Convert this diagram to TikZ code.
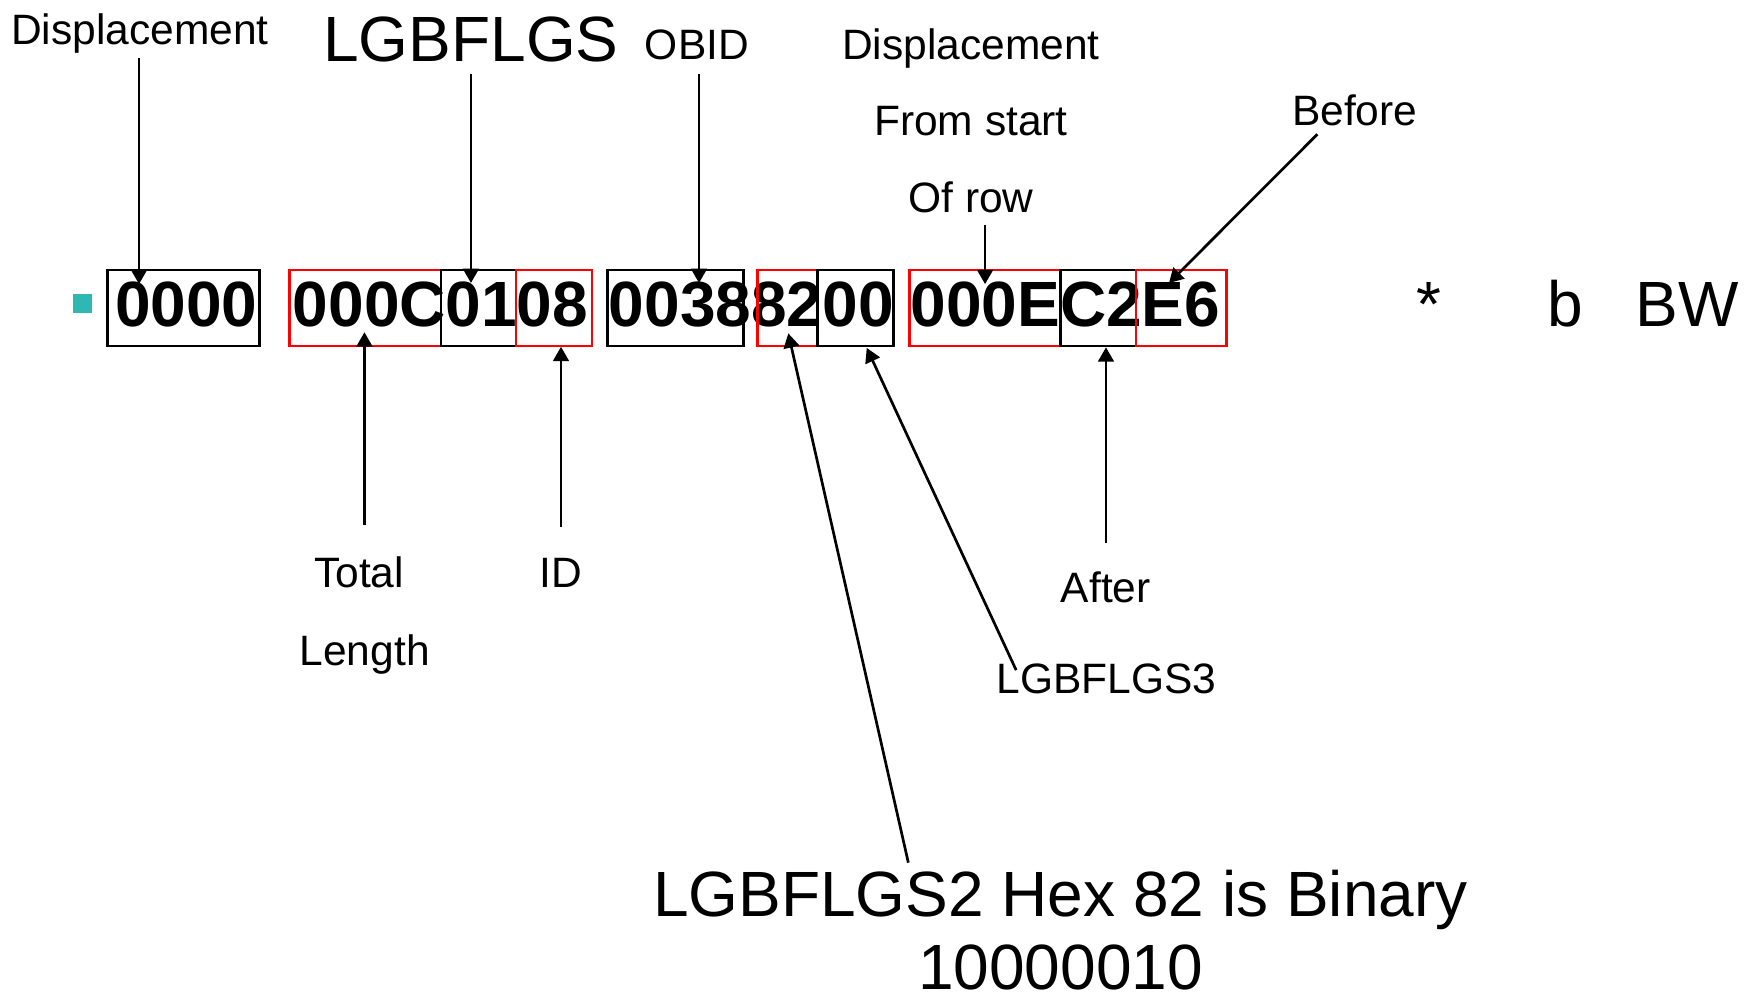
\documentclass[tikz,border=0pt]{standalone}
\usepackage{fontspec}
\setmainfont{Liberation Sans}
\usetikzlibrary{arrows.meta,fit,calc}
\definecolor{bulletteal}{RGB}{46,183,180}
\definecolor{fieldred}{RGB}{255,0,0}

\begin{document}
\begin{tikzpicture}[x=0.5pt,y=-0.5pt,
  lbltxt/.style={inner sep=0pt, anchor=base, font=\fontsize{19pt}{23pt}\selectfont},
  bigtxt/.style={inner sep=0pt, anchor=base, font=\fontsize{28.6pt}{34pt}\selectfont},
  hextxt/.style={inner sep=0pt, anchor=base west, font=\fontsize{28.6pt}{34pt}\selectfont\bfseries},
  blkbox/.style={draw=black, line width=1.1pt, inner sep=0pt},
  redbox/.style={draw=fieldred, line width=1.1pt, inner sep=0pt},
  arr/.style={draw=black, line width=1.2pt, -{Triangle[length=6.4pt,width=7pt]}},
]
\useasboundingbox (0,0) rectangle (1568,892);

% bullet
\node[fill=bulletteal, inner sep=0pt, fit={(65.5,263) (82,279.5)}] (bul) {};

% hex dump of the row
\node[hextxt] (hA) at (102.6,292) {0000};
\node[hextxt] (hB) at (261.4,292) {000C0108};
\node[hextxt] (hE) at (544,292) {00388200};
\node[hextxt] (hH) at (813.7,292) {000EC2E6};

% trailing characters
\node[bigtxt] (starL) at (1277,292) {*};
\node[bigtxt] (bL) at (1399.5,292) {b};
\node[bigtxt] (bwL) at (1508,292) {BW};

% field boxes
\node[blkbox, fit={(96.3,241.4) (231.8,309.3)}] (bA) {};
\node[redbox, fit={(258.6,241.4) (394,309.3)}] (bB) {};
\node[blkbox, fit={(394,241.4) (461.3,309.3)}] (bC) {};
\node[redbox, fit={(461.3,241.4) (529,309.3)}] (bD) {};
\node[blkbox, fit={(543,241.4) (664.5,309.3)}] (bE) {};
\node[redbox, fit={(677,241.4) (731,309.3)}] (bF) {};
\node[blkbox, fit={(731,241.4) (798.6,309.3)}] (bG) {};
\node[redbox, fit={(813,241.4) (948.2,309.3)}] (bH) {};
\node[blkbox, fit={(948.2,241.4) (1015.3,309.3)}] (bI) {};
\node[redbox, fit={(1015.3,241.4) (1096.6,309.3)}] (bJ) {};

% labels above
\node[lbltxt] (dispL) at (125,40) {Displacement};
\node[bigtxt] (lgbL) at (421,55) {LGBFLGS};
\node[lbltxt] (obidL) at (623,53) {OBID};
\node[lbltxt] (disp2L) at (868,53) {Displacement};
\node[lbltxt] (fromL) at (868,121.5) {From start};
\node[lbltxt] (rowL) at (868,190) {Of row};
\node[lbltxt] (beforeL) at (1211,112) {Before};

% labels below
\node[lbltxt] (totalL) at (321,525.5) {Total};
\node[lbltxt] (lengthL) at (326,594.5) {Length};
\node[lbltxt] (idL) at (501,525.5) {ID};
\node[lbltxt] (afterL) at (988.5,539) {After};
\node[lbltxt] (lgb3L) at (989,620) {LGBFLGS3};
\node[bigtxt] (lgb2L) at (948,819) {LGBFLGS2 Hex 82 is Binary};
\node[bigtxt] (binL) at (948,885) {10000010};

% arrow tips inside the fields
\coordinate (tDisp) at (124.3,254);
\coordinate (tLgb) at (421,253);
\coordinate (tObid) at (624.9,253);
\coordinate (tRow) at (880.6,254);
\coordinate (tBefore) at (1045,253);
\coordinate (tTotal) at (325.8,297);
\coordinate (tId) at (501.5,310);
\coordinate (tLgb2) at (704.7,298);
\coordinate (tLgb3) at (774.8,311);
\coordinate (tAfter) at (988.7,310.5);

% connectors
\draw[arr] ($(dispL.south -| tDisp)+(0,4)$) -- (tDisp);
\draw[arr] ($(lgbL.south -| tLgb)+(0,10)$) -- (tLgb);
\draw[arr] ($(obidL.south -| tObid)+(0,12)$) -- (tObid);
\draw[arr] ($(rowL.south -| tRow)+(0,10)$) -- (tRow);
\draw[arr] ($(beforeL.south)+(-33.3,7.2)$) -- (tBefore);
\draw[arr] ($(totalL.north -| tTotal)+(0,-28)$) -- (tTotal);
\draw[arr] ($(idL.north -| tId)+(0,-28)$) -- (tId);
\draw[arr] ($(afterL.north -| tAfter)+(0,-26)$) -- (tAfter);
\draw[arr] ($(lgb2L.north)+(-136,-6)$) -- (tLgb2);
\draw[arr] ($(lgb3L.north west)+(18,6)$) -- (tLgb3);
\end{tikzpicture}
\end{document}
